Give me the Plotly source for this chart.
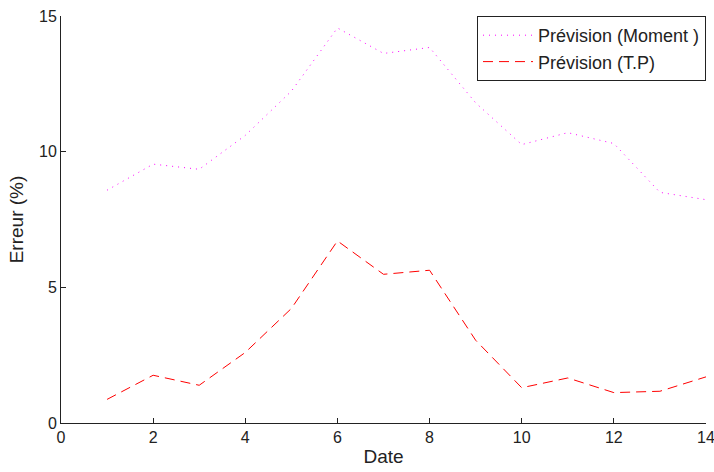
import plotly.graph_objects as go

# Date index and forecast error (%) for the two forecasting methods
dates = list(range(1, 15))
err_moment = [8.58, 9.54, 9.35, 10.6, 12.23, 14.56, 13.62, 13.84, 11.8, 10.26, 10.7, 10.3, 8.5, 8.23]
err_tp = [0.87, 1.76, 1.39, 2.6, 4.22, 6.71, 5.48, 5.63, 3.05, 1.3, 1.66, 1.12, 1.17, 1.7]

x_ticks = list(range(0, 15, 2))
y_ticks = [0, 5, 10, 15]

font_family = "Liberation Sans, Arial, sans-serif"

fig = go.Figure()
fig.add_trace(go.Scatter(
    x=dates, y=err_moment, mode="lines", name="Prévision (Moment )",
    line=dict(color="#ff00ff", width=1, dash="1px,5px"),
))
fig.add_trace(go.Scatter(
    x=dates, y=err_tp, mode="lines", name="Prévision (T.P)",
    line=dict(color="#ff0000", width=1, dash="10px,6px"),
))

axis_common = dict(
    showgrid=False, zeroline=False, showline=True, linecolor="#222",
    linewidth=1, ticks="inside", ticklen=5, tickcolor="#222", tickwidth=1,
    tickfont=dict(family=font_family, size=16, color="#222"),
    ticklabeloverflow="allow", automargin=False, mirror=False,
)

fig.update_layout(
    width=714, height=472,
    margin=dict(l=61, r=8, t=16, b=49),
    paper_bgcolor="white", plot_bgcolor="white",
    font=dict(family=font_family, size=16, color="#222"),
    xaxis=dict(range=[0, 14], tickvals=x_ticks,
               title=dict(text="Date", font=dict(size=19), standoff=4),
               **axis_common),
    yaxis=dict(range=[0, 15], tickvals=y_ticks,
               title=dict(text="Erreur (%)", font=dict(size=19), standoff=10),
               **axis_common),
    legend=dict(
        x=1.0, y=1.0, xanchor="right", yanchor="top",
        bordercolor="#222", borderwidth=1, bgcolor="white",
        font=dict(family=font_family, size=18, color="#222"),
        itemwidth=50, tracegroupgap=0,
    ),
    showlegend=True,
)

fig.write_html("out.html")
